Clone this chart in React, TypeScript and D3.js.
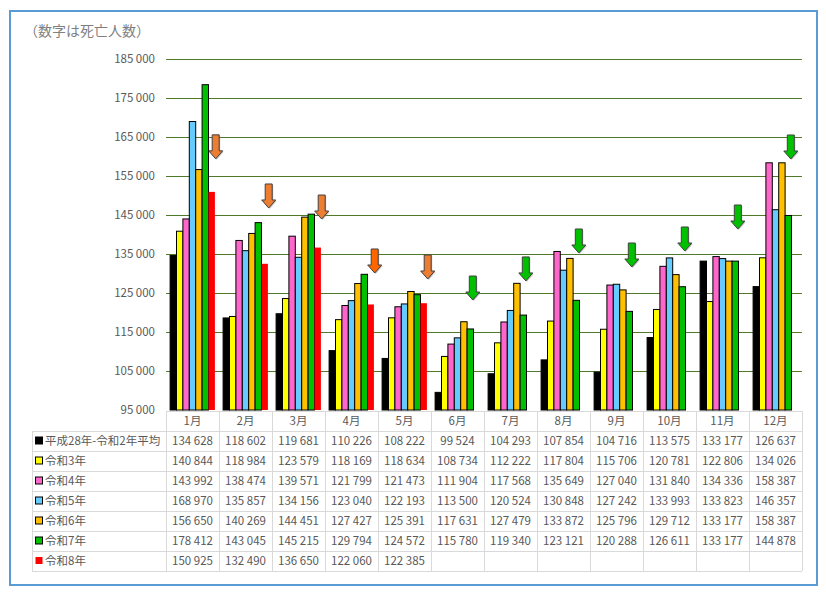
import React from 'react';
import * as d3 from 'd3';

const months = ['1月','2月','3月','4月','5月','6月','7月','8月','9月','10月','11月','12月'];
const seriesNames = ['平成28年-令和2年平均','令和3年','令和4年','令和5年','令和6年','令和7年','令和8年'];
const seriesColors = ['#000000','#FFFF00','#FF66CC','#66CCFF','#FFC000','#00C000','#FF0000'];

const avgH28R2 = [134628,118602,119681,110226,108222,99524,104293,107854,104716,113575,133177,126637];
const r3 = [140844,118984,123579,118169,118634,108734,112222,117804,115706,120781,122806,134026];
const r4 = [143992,138474,139571,121799,121473,111904,117568,135649,127040,131840,134336,158387];
const r5 = [168970,135857,134156,123040,122193,113500,120524,130848,127242,133993,133823,146357];
const r6 = [156650,140269,144451,127427,125391,117631,127479,133872,125796,129712,133177,158387];
const r7 = [178412,143045,145215,129794,124572,115780,119340,123121,120288,126611,133177,144878];
const r8 = [150925,132490,136650,122060,122385];

const yTicks = [95000,105000,115000,125000,135000,145000,155000,165000,175000,185000];

// annotation arrows: tip value per month and colour
const arrowTips = [159400,146800,143970,130130,128590,123200,128100,135260,131670,135770,141410,159360];
const arrowColors = ['#ED7D31','#ED7D31','#ED7D31','#FF6600','#ED7D31','#00C000','#00C000','#00C000','#00C000','#00C000','#00C000','#00C000'];

const allSeries = [avgH28R2, r3, r4, r5, r6, r7, r8];

const W = 826, H = 596;
const plotL = 166, plotR = 802, plotT = 59, plotB = 410;
const FONT = '"Noto Sans CJK JP", "Noto Sans", sans-serif';
const fmt = (v: number) => d3.format(',')(v).replace(/,/g, ' ');

export default function App() {
  const x = d3.scaleBand<string>().domain(months).range([plotL, plotR]).paddingInner(0).paddingOuter(0);
  const xs = d3.scaleBand<string>().domain(seriesNames).range([0, x.bandwidth()]).paddingInner(0).paddingOuter(0.64);
  const y = d3.scaleLinear().domain([95000, 185000]).range([plotB, plotT]);
  const bw = xs.bandwidth();

  const headerTop = 411, headerBot = 431, rowH = 20;
  const tableL = 32;
  const tableBot = headerBot + rowH * seriesNames.length;
  const gridC = '#D9D9D9';
  const textC = '#595959';

  const arrowPath = (cx: number, tip: number) => {
    const L = 24, hh = 8, hw = 7, sw = 3.5;
    return `M${cx - sw},${tip - L}L${cx + sw},${tip - L}L${cx + sw},${tip - hh}L${cx + hw},${tip - hh}L${cx},${tip}L${cx - hw},${tip - hh}L${cx - sw},${tip - hh}Z`;
  };

  return (
    <svg width={W} height={H} style={{ position: 'absolute', left: 0, top: 0, background: '#fff' }} fontFamily={FONT}>
      <rect x={10} y={11} width={807} height={574} fill="#fff" stroke="#5B9BD5" strokeWidth={2} />
      <text x={24} y={36} fontSize={14} fill="#7F7F7F">（数字は死亡人数）</text>

      {/* gridlines */}
      {yTicks.filter(t => t > 95000).map(t => (
        <line key={t} x1={plotL} x2={plotR} y1={Math.round(y(t)) + 0.5} y2={Math.round(y(t)) + 0.5} stroke="#4E7A2A" strokeWidth={1} shapeRendering="crispEdges" />
      ))}
      {yTicks.map(t => (
        <text key={'l' + t} x={155} y={y(t)} dy="0.35em" textAnchor="end" fontSize={11.5} fill={textC}>{fmt(t)}</text>
      ))}

      {/* bars */}
      {allSeries.map((s, si) => s.map((v, mi) => {
        const bx = (x(months[mi]) as number) + (xs(seriesNames[si]) as number);
        const isRed = si === 6;
        return (
          <rect key={si + '-' + mi} x={bx} y={y(v)} width={bw} height={plotB - y(v)}
            fill={seriesColors[si]} stroke={isRed ? 'none' : '#000'} strokeWidth={isRed ? 0 : 1} />
        );
      }))}

      {/* arrows */}
      {arrowTips.map((t, mi) => {
        const green = arrowColors[mi] === '#00C000';
        const base = (x(months[mi]) as number) + (xs(seriesNames[green ? 5 : 6]) as number) + bw / 2;
        const cx = base + (green ? 2.5 : 4);
        const tip = y(t);
        return (
          <g key={'a' + mi}>
            <path d={arrowPath(cx + 1, tip + 1)} fill="#7F7F7F" opacity={0.45} />
            <path d={arrowPath(cx, tip)} fill={arrowColors[mi]} stroke="#404040" strokeWidth={1} strokeLinejoin="miter" />
          </g>
        );
      })}

      {/* table */}
      <g shapeRendering="crispEdges">
        <line x1={plotL} x2={plotR} y1={headerTop} y2={headerTop} stroke={gridC} />
        {d3.range(seriesNames.length + 1).map(i => (
          <line key={'h' + i} x1={tableL} x2={plotR} y1={headerBot + i * rowH} y2={headerBot + i * rowH} stroke={gridC} />
        ))}
        <line x1={tableL} x2={tableL} y1={headerBot} y2={tableBot} stroke={gridC} />
        {d3.range(months.length + 1).map(i => {
          const xx = i < months.length ? (x(months[i]) as number) : plotR;
          return <line key={'v' + i} x1={xx} x2={xx} y1={headerTop} y2={tableBot} stroke={gridC} />;
        })}
      </g>
      <g>
        {months.map(m => (
          <text key={'m' + m} x={(x(m) as number) + x.bandwidth() / 2} y={(headerTop + headerBot) / 2} dy="0.38em"
            textAnchor="middle" fontSize={11.5} fill={textC}>{m}</text>
        ))}
        {seriesNames.map((name, si) => {
          const cy = headerBot + si * rowH + rowH / 2;
          const isRed = si === 6;
          return (
            <g key={'r' + si}>
              <rect x={35.5} y={cy - 4} width={7} height={7} fill={seriesColors[si]}
                stroke={isRed ? 'none' : '#000'} strokeWidth={1} />
              <text x={45} y={cy} dy="0.36em" fontSize={11.5} fill={textC}>{name}</text>
              {allSeries[si].map((v, mi) => (
                <text key={mi} x={(x(months[mi]) as number) + x.bandwidth() / 2} y={cy} dy="0.36em"
                  textAnchor="middle" fontSize={11.5} fill={textC}>{fmt(v)}</text>
              ))}
            </g>
          );
        })}
      </g>
    </svg>
  );
}
